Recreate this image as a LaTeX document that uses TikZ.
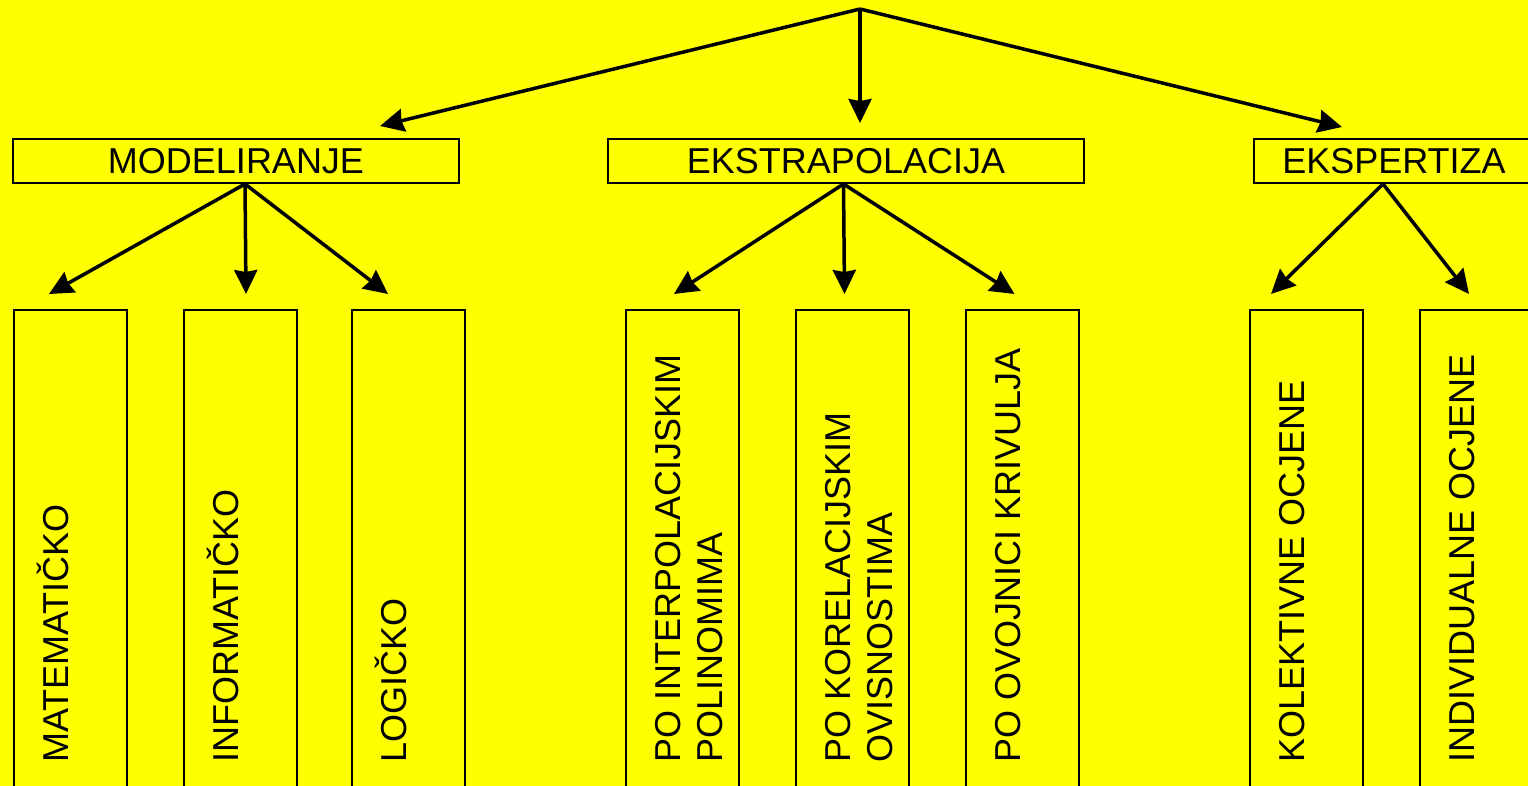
\documentclass[tikz,border=0pt]{standalone}
\usepackage{fontspec}
\setmainfont{Liberation Sans}
\usepackage{tikz}
\usetikzlibrary{arrows.meta, positioning, calc}
\definecolor{bgyellow}{RGB}{255, 255, 0}

\begin{document}
\begin{tikzpicture}[
    x=1pt, y=-1pt,
    topbox/.style={draw, line width=2pt, minimum width=#1, minimum height=44pt, inner sep=0pt, font=\fontsize{36}{42}\selectfont},
    colbox/.style={draw, line width=2pt, anchor=north west, minimum width=113pt, minimum height=500pt, inner sep=0pt},
    vlabel/.style={rotate=90, anchor=base west, inner sep=0pt, align=left, font=\fontsize{36}{42}\selectfont},
    arrow/.style={-{Stealth[length=24pt, width=23pt, inset=2pt]}, line width=3.5pt}
]
    \useasboundingbox (0,0) rectangle (1528,786);
    \fill[bgyellow] (0,0) rectangle (1528,786);
    \clip (0,0) rectangle (1528,786);

    \coordinate (root) at (860,9);

    \node[topbox=446pt] (modeliranje) at (236,161) {MODELIRANJE};
    \node[topbox=476pt] (ekstrapolacija) at (846,161) {EKSTRAPOLACIJA};
    \node[topbox=280pt] (ekspertiza) at (1394,161) {EKSPERTIZA};

    \node[colbox] (mat) at (13,309) {};
    \node[colbox] (inf) at (183,309) {};
    \node[colbox] (log) at (351,309) {};
    \node[colbox] (ipol) at (625,309) {};
    \node[colbox] (kor) at (795,309) {};
    \node[colbox] (ovo) at (965,309) {};
    \node[colbox] (kol) at (1249,309) {};
    \node[colbox] (ind) at (1419,309) {};

    \node[vlabel] (matl) at ($(mat.north west)+(55,454)$) {MATEMATIČKO};
    \node[vlabel] (infl) at ($(inf.north west)+(55,454)$) {INFORMATIČKO};
    \node[vlabel] (logl) at ($(log.north west)+(55,454)$) {LOGIČKO};
    \node[vlabel] (ipoll) at ($(ipol.north west)+(97,454)$) {PO INTERPOLACIJSKIM\\POLINOMIMA};
    \node[vlabel] (korl) at ($(kor.north west)+(97,454)$) {PO KORELACIJSKIM\\OVISNOSTIMA};
    \node[vlabel] (ovol) at ($(ovo.north west)+(55,454)$) {PO OVOJNICI KRIVULJA};
    \node[vlabel] (koll) at ($(kol.north west)+(55,454)$) {KOLEKTIVNE OCJENE};
    \node[vlabel] (indl) at ($(ind.north west)+(55,454)$) {INDIVIDUALNE OCJENE};

    \coordinate (tomod) at (380,126);
    \coordinate (toekst) at (860,123);
    \coordinate (toeksp) at (1342,127);

    \coordinate (modsrc) at ([xshift=9pt]modeliranje.south);
    \coordinate (ekstsrc) at ([xshift=-2.5pt]ekstrapolacija.south);
    \coordinate (ekspsrc) at ([xshift=-11pt]ekspertiza.south);

    \coordinate (tomat) at ([xshift=-21.5pt, yshift=15pt]mat.north);
    \coordinate (toinf) at ([xshift=5.5pt, yshift=15pt]inf.north);
    \coordinate (tolog) at ([xshift=-20.5pt, yshift=15pt]log.north);
    \coordinate (toipol) at ([xshift=-8.5pt, yshift=15pt]ipol.north);
    \coordinate (tokor) at ([xshift=-8pt, yshift=15pt]kor.north);
    \coordinate (toovo) at ([xshift=-8pt, yshift=15pt]ovo.north);
    \coordinate (tokol) at ([xshift=-35.5pt, yshift=15pt]kol.north);
    \coordinate (toind) at ([xshift=-7.5pt, yshift=15pt]ind.north);

    \draw[arrow] (root) -- (tomod);
    \draw[arrow] (root) -- (toekst);
    \draw[arrow] (root) -- (toeksp);

    \draw[arrow] (modsrc) -- (tomat);
    \draw[arrow] (modsrc) -- (toinf);
    \draw[arrow] (modsrc) -- (tolog);
    \draw[arrow] (ekstsrc) -- (toipol);
    \draw[arrow] (ekstsrc) -- (tokor);
    \draw[arrow] (ekstsrc) -- (toovo);
    \draw[arrow] (ekspsrc) -- (tokol);
    \draw[arrow] (ekspsrc) -- (toind);
\end{tikzpicture}
\end{document}
